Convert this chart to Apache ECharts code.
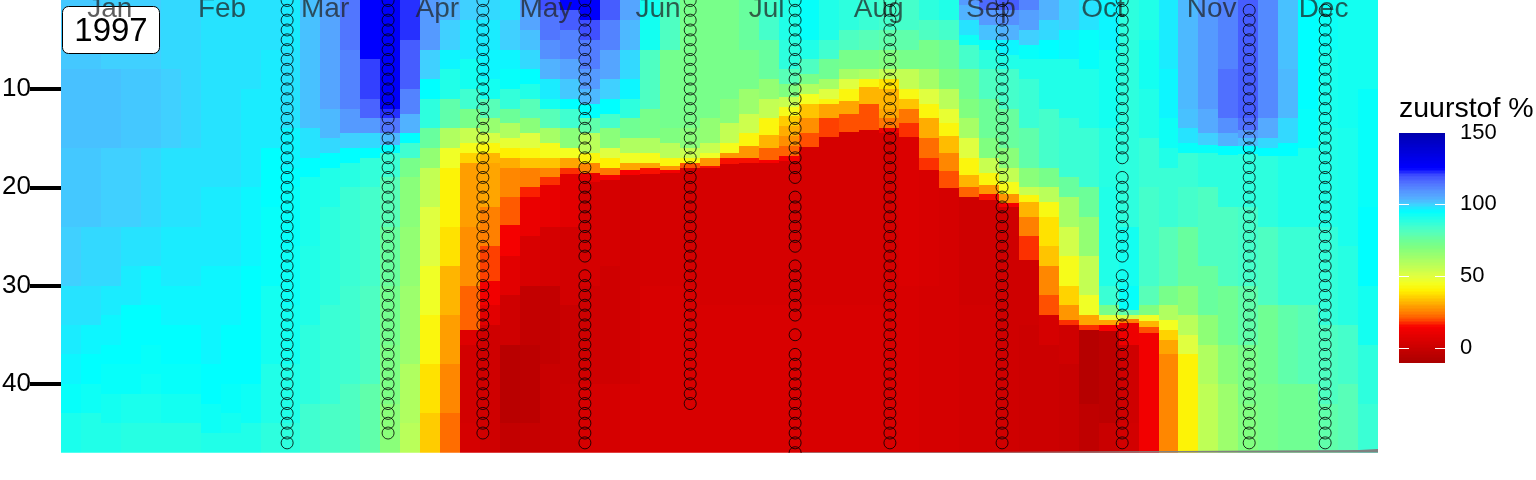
<!DOCTYPE html>
<html><head><meta charset="utf-8">
<style>html,body{margin:0;padding:0;background:#fff}#c{width:1536px;height:480px}</style>
<script src="https://cdn.jsdelivr.net/npm/echarts@6/dist/echarts.min.js"></script>
</head><body><div id="c"></div>
<script>
const monthNames=['Jan','Feb','Mar','Apr','May','Jun','Jul','Aug','Sep','Oct','Nov','Dec'];
const monthDays=[13.5,44.5,73,104,134,165,195,226,257,288,318,349];
const yTicks=[10,20,30,40];
const legendTicks=[0,50,100,150];
const legendMarks=[0,50,100];
const castDays=[62.5,90.4,116.6,144.8,173.9,202.9,229.1,260.1,293.3,328.4,349.4];
const castFirst=[1,1,1,1,1,1,1,1,1,2,2];
const castLast=[46,45,45,46,42,47,46,46,46,46,46];
const castGaps=[[],[],[],[28],[],[20,27,34,36],[],[],[18,28],[],[]];
const bathyDays=[204.8,254.3,307.9,358.8,364];
const bathyDepth=[46.93,46.83,46.73,46.63,46.63];
const colorStops=['#aa0000','#b90000','#c90000','#d80000','#e80000','#f80000','#ff5000','#ff8000','#ffa500','#ffcc00','#fff000','#f4ff20','#e0ff40','#c8ff50','#b0ff60','#98ff70','#80ff80','#6cff98','#58ffb8','#40ffd0','#20ffe8','#00ffff','#40d0ff','#55aaff','#5590ff','#5070ff','#4050ff','#0000ff','#0000f0','#0000e0','#0000d0','#0000c0','#0000aa'];
// each column: bottom depth, oxygen %, bottom depth, oxygen %, ...
const p00=[8,101,16,102,24,101,30,100,34,98,37,97,40,96,43,94,47,91];
const p01=[8,101,16,102,24,101,30,99,34,98,37,96,40,95,43,93,47,90];
const p02=[8,100,16,102,24,100,30,99,33,97,36,96,38,95,41,94,44,92,47,90];
const p03=[8,100,16,101,24,100,28,98,32,97,35,95,38,95,41,94,44,91,47,89];
const p04=[8,100,16,101,24,99,28,98,32,96,36,95,39,94,41,93,44,91,47,89];
const p05=[8,99,16,100,24,98,30,97,34,96,38,95,41,94,44,92,47,89];
const p06=[8,99,16,99,24,98,30,97,34,96,38,95,41,94,44,92,47,89];
const p07=[10,98,20,98,28,97,34,96,38,96,42,95,45,93,47,90];
const p08=[10,98,20,98,28,97,34,96,40,95,43,94,45,92,47,90];
const p09=[10,98,20,97,28,96,33,95,40,95,44,93,47,90];
const p10=[6,98,16,97,22,95,30,94,38,92,44,90,47,88];
const p11=[6,97,14,98,18,96,20,95,26,94,32,93,38,92,44,90,47,88];
const p12=[14,102,17,98,19,95,26,91,34,90,42,88,47,85];
const p13=[6,106,12,106,15,103,16.5,99,18,95,22,90,32,88,42,86,47,83];
const p14=[6,114,12,112,14.5,108,16,100,17.5,95,20,89,30,86,40,85,47,82];
const p15=[7,125,11,121,13,117,14.5,108,16,99,17,95,20,87,30,84,40,82,47,78];
const p16=[12,127,13,122,14.5,114,15.7,103,16.5,95,19,86,24,80,30,76,36,73,42,71,47,68];
const p17=[5,122,10,118,12.5,112,14.5,104,15.5,95,17,85,19,72,24,68,30,66,38,64,44,60,47,58];
const p18=[6,108,9,100,11,95,14,88,16,76,18,66,22,56,28,50,33,46,38,42,43,38,47,35];
const p19=[3,104,6,100,8,96,11,90,14,78,16,60,18,46,24,41,28,38,33,32,38,29,43,26,47,23];
const p20=[3,100,7,97,10,92,12,85,14,72,15.5,55,16.5,44,17.5,36,24,29,30,27,34.5,22,36,7,44,3,47,4];
const p21=[3,99,6,97,9,96,11,92,13,80,14.5,65,15.5,52,16.5,42,17.5,32,22,30,26,25,29.5,19,32,13,34,8,47,2];
const p22=[3,98,6,100,8,96,10,94,12,87,13.5,75,15,60,16,48,17,40,18,31,21,26,23.8,21,27,14,31,8,36,2,44,-5,47,-2];
const p23=[2,108,4,106,6,102,8,99,9.5,95,11,90,13,80,14.5,68,16,50,17,42,18,34,20,25,21,17,25,11,30,5,36,-2,44,-4,47,-1];
const p24=[2,120,5,114,7,110,9,104,11,97,12,92,14,80,15.5,62,17,44,18,34,19,26,19.8,18,24,10,30,4,38,-2,47,0];
const p25=[2,125,4,118,7,112,9,106,11,101,12,95,14,85,16,68,17,45,18,30,18.7,18,24,8,32,3,40,0,47,1];
const p26=[3,126,5,120,8,113,10,108,11.5,103,13,95,14.5,78,16.5,58,17.5,42,18.5,26,19.5,10,30,4,40,2,47,4];
const p27=[3,118,6,112,9,106,11,100,12.5,95,14,84,16,68,17,50,18,40,18.8,24,19.3,14,28,4,40,2,47,4];
const p28=[3,106,6,103,9,99,11,96,13,88,15,74,16.5,60,17.5,46,18.2,30,18.8,15,30,3,40,3,47,5];
const p29=[6,92,12,82,15,72,16.5,60,17.5,44,18,30,18.6,16,30,4,47,5];
const p30=[6,82,14,73,15.5,70,17,58,17.8,42,18.2,28,18.5,14,30,4,47,5];
const p31=[14,72,16,68,17,55,17.5,42,18,20,30,4,47,5];
const p32=[13,72,15.5,66,16.5,55,17,46,17.8,28,18,16,32,4,47,5];
const p33=[11,72,13.5,68,15.5,56,16.5,44,17,28,17.6,16,32,4,47,5];
const p34=[6,76,10,72,12.5,64,14.5,54,15.8,42,17,28,17.5,16,32,4,47,5];
const p35=[5,84,9,76,11,66,13,56,14.7,42,16,32,17.2,22,17.5,15,32,4,47,5];
const p36=[5,90,8,88,9.5,80,10.8,70,11.8,55,12.8,44,13.8,35,14.8,31,15.8,27,16.8,22,17.3,14,32,4,47,5];
const p37=[5,94,7,90,8.5,82,9.5,72,10.5,60,11.5,45,13,34,14.5,27,15.9,20,32,4,47,5];
const p38=[5,90,7,85,9,74,10,62,11,50,11.5,42,13,30,14.9,19,32,4,47,5];
const p39=[4,88,6,82,8,72,9,62,10,50,11.2,42,12.5,30,14.4,20,32,4,47,5];
const p40=[4,86,6,80,8,72,9,60,9.8,42,11.5,32,14.2,20,32,4,47,5];
const p41=[4,84,6,78,8,70,9,56,10,38,12,32,13,30,14,24,14.5,12,32,4,47,5];
const p42=[4,84,6,78,8,72,10,56,11,43,12,34,13.5,24,14.9,18,30,6,47,5];
const p43=[3,88,5,82,8,72,10,62,11.5,50,13,42,15,31,17,23,18.2,18,30,5,47,4];
const p44=[3,90,5,84,8,75,10,70,12,58,13.5,48,14.8,42,16.5,33,18.3,26,20.1,20,30,4,47,4];
const p45=[1.5,108,3,104,4.5,98,5.5,93,8,84,11,74,13,70,15,62,17,50,18.8,42,20,32,21,22,32,2,47,3];
const p46=[2,116,3.5,108,5,102,6,94,8,88,11,82,15,75,17,70,18.5,55,19.8,42,20.7,28,21.3,16,32,2,47,3];
const p47=[2,118,3.5,110,5,104,6.5,96,8,90,12,84,16,76,18,68,19.5,56,20.7,44,21.6,28,22,14,32,2,47,2];
const p48=[2,112,4,107,5.5,100,7,94,9,90,14,86,18,78,20,68,20.8,55,21.5,42,23,32,25,25,27.4,18,34,2,47,1];
const p49=[3,104,5,99,7,95,12,90,18,84,20,72,21.5,58,23,43,26,38,28,34,31,26,33,20,36,4,47,1];
const p50=[4,100,7,96,13,90,19,86,21,76,24,62,27,53,30,44,32,36,33.5,28,34,18,38,2,47,0];
const p51=[4,98,8,94,14,90,20,86,23,75,27,66,31,56,33,46,34,30,34.5,18,42,-6,47,-3];
const p52=[6,96,14,92,20,89,30,90,32,86,33,72,33.5,48,34,30,34.6,15,44,-4,47,0];
const p53=[8,88,16,88,24,88,30,92,32.5,94,33,78,33.4,52,33.8,25,36,12,44,2,47,3];
const p54=[5,90,10,92,15,90,20,86,30,84,32,80,33,70,33.6,46,34.2,32,34.8,20,47,13];
const p55=[8,97,13,96,16,93,18,90,24,86,30,80,32,72,33.5,60,34.5,45,35.5,36,37,30,47,26];
const p56=[12,103,14,102,15.5,98,16.5,94,20,86,24,84,30,76,33,68,35,58,37,50,47,41];
const p57=[12,108,14.5,105,15.7,100,16.5,94,20,88,28,82,33,76,36,67,40,60,47,57];
const p58=[8,112,13,115,14.5,110,15.8,104,16.7,95,22,88,30,82,36,74,40,68,47,64];
const p59=[13,118,14.2,115,15,108,15.8,102,16.6,95,22,88,30,84,36,78,42,72,47,70];
const p60=[13,111,15,105,16,99,16.8,95,24,88,32,82,40,74,47,72];
const p61=[8,102,13,103,15.5,99,16.8,95,24,90,32,86,40,78,47,74];
const p62=[6,95,12,95,16,94,24,90,32,86,40,80,47,74];
const p63=[6,93,14,91,24,90,34,87,42,82,47,78];
const p64=[14,92,26,91,34,89,40,84,47,80];
const p65=[10,92,22,94,30,95,36,92,42,88,47,86];
const profiles=[p00,p01,p02,p03,p04,p05,p06,p07,p08,p09,p10,p11,p12,p13,p14,p15,p16,p17,p18,p19,p20,p21,p22,p23,p24,p25,p26,p27,p28,p29,p30,p31,p32,p33,p34,p35,p36,p37,p38,p39,p40,p41,p42,p43,p44,p45,p46,p47,p48,p49,p50,p51,p52,p53,p54,p55,p56,p57,p58,p59,p60,p61,p62,p63,p64,p65];

const DAY_MAX=364, DEPTH_MIN=0.95, DEPTH_MAX=47;
const step=DAY_MAX/profiles.length;
const cells=[];
profiles.forEach((p,i)=>{
  let top=DEPTH_MIN;
  for(let k=0;k<p.length;k+=2){
    cells.push([i*step,(i+1)*step,top,p[k],p[k+1]]);
    top=p[k];
  }
});
const barCells=[];
for(let v=-10;v<150;v++) barCells.push([0,1,v,v+1,v+0.5]);
const markCells=[];
legendMarks.forEach(v=>{
  markCells.push([0,0.22,v-0.35,v+0.35]);
  markCells.push([0.78,1,v-0.35,v+0.35]);
});
const casts=[];
castDays.forEach((d,i)=>{
  for(let z=castFirst[i];z<=castLast[i];z++){
    if(!castGaps[i].includes(z)) casts.push([d,z]);
  }
});
function box(api){
  const a=api.coord([api.value(0),api.value(2)]);
  const b=api.coord([api.value(1),api.value(3)]);
  const x0=Math.round(Math.min(a[0],b[0])),x1=Math.round(Math.max(a[0],b[0]));
  const y0=Math.round(Math.min(a[1],b[1])),y1=Math.max(Math.round(Math.max(a[1],b[1])),Math.round(Math.min(a[1],b[1]))+1);
  return {x:x0,y:y0,width:x1-x0,height:y1-y0};
}
function cellRect(params,api){
  return {type:'rect',shape:box(api),style:{fill:api.visual('color')}};
}
function markRect(params,api){
  return {type:'rect',shape:box(api),style:{fill:'#fff'}};
}
const FONT='"Liberation Sans"';
const chart=echarts.init(document.getElementById('c'),null,{renderer:'canvas'});
chart.setOption({
  animation:false,
  backgroundColor:'#fff',
  textStyle:{fontFamily:FONT},
  title:{text:'zuurstof %',left:1399,top:95,padding:0,textStyle:{fontFamily:FONT,fontSize:28.5,fontWeight:'normal',color:'#000'}},
  grid:[
    {left:61,top:0,width:1317,height:452.7,outerBoundsMode:'none'},
    {left:1399,top:132.5,width:46,height:230,outerBoundsMode:'none'}
  ],
  xAxis:[
    {gridIndex:0,type:'value',min:0,max:DAY_MAX,position:'top',z:4,
     axisLine:{show:false},axisTick:{show:false},splitLine:{show:false},
     axisLabel:{show:true,inside:true,customValues:monthDays,margin:-5,fontSize:28,fontFamily:FONT,color:'rgba(30,30,30,0.72)',
       formatter:v=>monthNames[monthDays.indexOf(v)]}},
    {gridIndex:1,type:'value',min:0,max:1,show:false}
  ],
  yAxis:[
    {gridIndex:0,type:'value',inverse:true,min:DEPTH_MIN,max:DEPTH_MAX,position:'left',z:4,
     axisLine:{show:false},splitLine:{show:false},
     axisTick:{show:true,customValues:yTicks,length:31,lineStyle:{color:'#000',width:4}},
     axisLabel:{show:true,customValues:yTicks,margin:30,padding:[4,0,0,0],fontSize:26,fontFamily:FONT,color:'#000'}},
    {gridIndex:1,type:'value',min:-10,max:150,position:'right',z:4,
     axisLine:{show:false},splitLine:{show:false},axisTick:{show:false},
     axisLabel:{show:true,customValues:legendTicks,margin:15,padding:[5,0,0,0],fontSize:22,fontFamily:FONT,color:'#000'}}
  ],
  visualMap:{show:false,type:'continuous',min:-10,max:150,dimension:4,seriesIndex:[0,1],inRange:{color:colorStops}},
  graphic:[
    {type:'rect',z:3,shape:{x:62.5,y:6.5,width:97,height:47,r:6},style:{fill:'#fff',stroke:'#000',lineWidth:1}},
    {type:'text',z:3,style:{text:'1997',x:111,y:32,align:'center',verticalAlign:'middle',font:'33px '+FONT,fill:'#000'}},
    {type:'rect',z:6,shape:{x:61,y:453,width:1317,height:10},style:{fill:'#fff'}}
  ],
  series:[
    {type:'custom',xAxisIndex:0,yAxisIndex:0,z:2,silent:true,clip:true,renderItem:cellRect,
     encode:{x:[0,1],y:[2,3]},data:cells},
    {type:'custom',xAxisIndex:1,yAxisIndex:1,z:2,silent:true,renderItem:cellRect,
     encode:{x:[0,1],y:[2,3]},data:barCells},
    {type:'custom',xAxisIndex:1,yAxisIndex:1,z:3,silent:true,renderItem:markRect,
     encode:{x:[0,1],y:[2,3]},data:markCells},
    {type:'line',xAxisIndex:0,yAxisIndex:0,z:3,step:'end',symbol:'none',silent:true,
     lineStyle:{width:0},areaStyle:{color:'#808080',opacity:1,origin:'end'},
     data:bathyDays.map((d,i)=>[d,bathyDepth[i]])},
    {type:'scatter',xAxisIndex:0,yAxisIndex:0,z:5,silent:true,clip:true,symbol:'circle',symbolSize:12,
     itemStyle:{color:'rgba(0,0,0,0)',borderColor:'#000',borderWidth:1},data:casts}
  ]
});
</script></body></html>
